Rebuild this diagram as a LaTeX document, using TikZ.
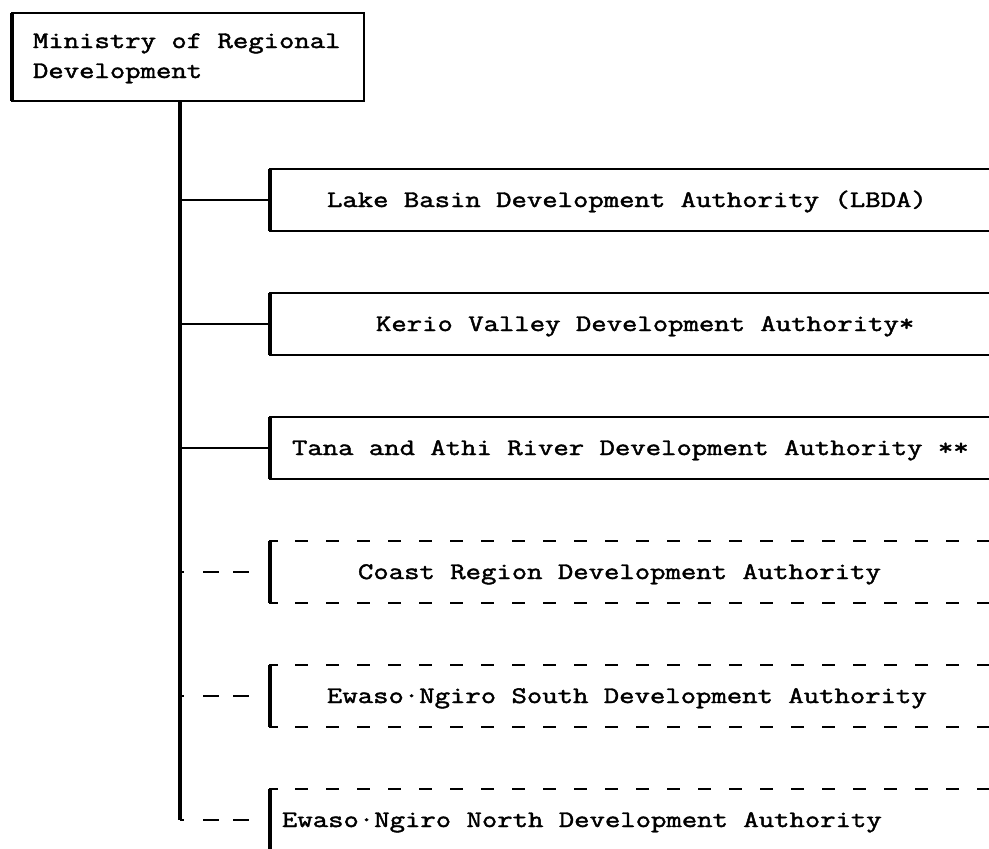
\documentclass[tikz,border=0pt]{standalone}
\usepackage{fontspec}
% wide, dark typewriter face
\newfontfamily\typewriter{Latin Modern Mono}[FakeStretch=1.26, FakeBold=1.8]
\begin{document}
\begin{tikzpicture}[x=1pt,y=-1pt,
  line width=2pt,
  lbl/.style={anchor=base west, inner sep=0pt, outer sep=0pt,
    font=\typewriter\fontsize{23.7}{30}\selectfont},
  area/.style={anchor=north west, minimum width=719pt, minimum height=62pt,
    inner sep=0pt, outer sep=0pt},
  stem/.style={line width=3.5pt},
  dashlink/.style={dash pattern=on 4pt off 19pt on 16pt off 14pt on 16pt off 40pt},
  dashedge/.style={dash pattern=on 13pt off 18pt}]
\useasboundingbox (0,0) rectangle (989,849);

% head office
\node[anchor=north west, minimum width=352pt, minimum height=88pt,
      inner sep=0pt, outer sep=0pt] (min) at (12,13) {};
\draw (min.north west) rectangle (min.south east);
\draw[stem] (min.north west) -- (min.south west);
\node[lbl] (minA) at (33,48) {Ministry of Regional};
\node[lbl] (minB) at (33,78) {Development};

% authority areas (open to the right)
\node[area] (b1) at (270,169) {};
\node[area] (b2) at (270,293) {};
\node[area] (b3) at (270,417) {};
\node[area] (b4) at (270,541) {};
\node[area] (b5) at (270,665) {};
\node[area] (b6) at (270,789) {};

% established authorities: solid outline
\foreach \b in {b1,b2,b3}{
  \draw (\b.north east) -- (\b.north west) -- (\b.south west) -- (\b.south east);
  \draw[stem] (\b.north west) -- (\b.south west);
}
% proposed authorities: dashed outline
\foreach \b in {b4,b5,b6}{
  \draw ([xshift=8pt]\b.north west) -- (\b.north west) -- (\b.south west) -- ([xshift=8pt]\b.south west);
  \draw[stem] (\b.north west) -- (\b.south west);
  \draw[dashedge] ([xshift=25pt]\b.north west) -- (\b.north east);
  \draw[dashedge] ([xshift=25pt]\b.south west) -- (\b.south east);
}

\node[lbl] (t1) at (327,207) {Lake Basin Development Authority (LBDA)};
\node[lbl] (t2) at (376,331) {Kerio Valley Development Authority*};
\node[lbl] (t3) at (292,455) {Tana and Athi River Development Authority **};
\node[lbl] (t4) at (358,579) {Coast Region Development Authority};
\node[lbl] (t5) at (327,703) {Ewaso·Ngiro South Development Authority};
\node[lbl] (t6) at (282,827) {Ewaso·Ngiro North Development Authority};

% trunk and branches
\coordinate (tx) at (180,0);
\draw[stem, line cap=square] (min.south -| tx) -- (b6.west -| tx);
\draw (b1.west -| tx) -- (b1.west);
\draw (b2.west -| tx) -- (b2.west);
\draw (b3.west -| tx) -- (b3.west);
\draw[dashlink] (b4.west -| tx) -- (b4.west);
\draw[dashlink] (b5.west -| tx) -- (b5.west);
\draw[dashlink] (b6.west -| tx) -- (b6.west);
\end{tikzpicture}
\end{document}
